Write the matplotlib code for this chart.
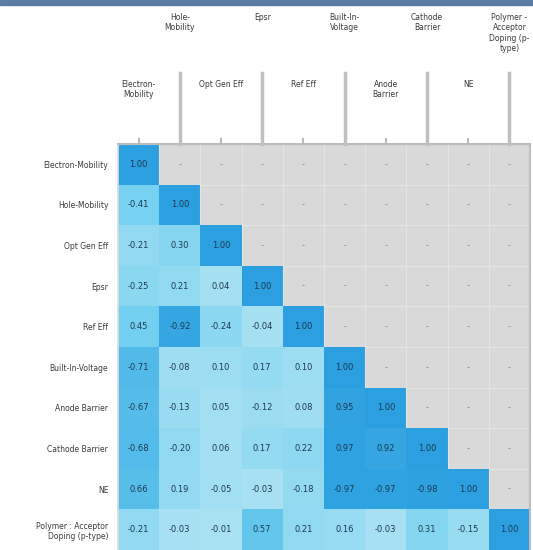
import numpy as np
import matplotlib
matplotlib.use("Agg")
import matplotlib.pyplot as plt
from matplotlib.colors import LinearSegmentedColormap

labels = ["Electron-Mobility", "Hole-Mobility", "Opt Gen Eff", "Epsr", "Ref Eff",
          "Built-In-Voltage", "Anode Barrier", "Cathode Barrier", "NE",
          "Polymer : Acceptor\nDoping (p-type)"]
col_labels = ["Electron-\nMobility", "Hole-\nMobility", "Opt Gen Eff", "Epsr", "Ref Eff",
              "Built-In-\nVoltage", "Anode\nBarrier", "Cathode\nBarrier", "NE",
              "Polymer -\nAcceptor\nDoping (p-\ntype)"]

# lower triangle of the correlation matrix, row by row
rows = [
    [1.00],
    [-0.41, 1.00],
    [-0.21, 0.30, 1.00],
    [-0.25, 0.21, 0.04, 1.00],
    [0.45, -0.92, -0.24, -0.04, 1.00],
    [-0.71, -0.08, 0.10, 0.17, 0.10, 1.00],
    [-0.67, -0.13, 0.05, -0.12, 0.08, 0.95, 1.00],
    [-0.68, -0.20, 0.06, 0.17, 0.22, 0.97, 0.92, 1.00],
    [0.66, 0.19, -0.05, -0.03, -0.18, -0.97, -0.97, -0.98, 1.00],
    [-0.21, -0.03, -0.01, 0.57, 0.21, 0.16, -0.03, 0.31, -0.15, 1.00],
]

n = len(labels)
cmap = LinearSegmentedColormap.from_list("blues", ["#a9e1f2", "#6ccdef", "#2b9fe0"])

fig = plt.figure(figsize=(5.33, 5.5), dpi=100)
fig.patches.append(plt.Rectangle((0, 1 - 5 / 550), 1, 5 / 550, transform=fig.transFigure,
                                 color="#5a7ca5", zorder=0))

ax = fig.add_axes([118 / 533, 0, 412 / 533, 406 / 550])
ax.set_xlim(0, n)
ax.set_ylim(n, 0)

for i, r in enumerate(rows):
    for j in range(n):
        if j < len(r):
            v = r[j]
            c = cmap(abs(v))
            ax.add_patch(plt.Rectangle((j, i), 1, 1, facecolor=c, edgecolor="none"))
            ax.text(j + 0.5, i + 0.5, "%.2f" % v, ha="center", va="center",
                    fontsize=6, color="#1e3850")
        else:
            ax.add_patch(plt.Rectangle((j, i), 1, 1, facecolor="#d9d9d9",
                                       edgecolor="#e4e4e4", linewidth=0.8))
            ax.text(j + 0.5, i + 0.5, "-", ha="center", va="center",
                    fontsize=6, color="#888888")

ax.set_xticks([])
ax.set_yticks(np.arange(n) + 0.5)
ax.set_yticklabels(labels, fontsize=5.5, color="#3a3a3a")
ax.tick_params(axis="y", length=0, pad=7)
ax.spines["bottom"].set_visible(False)
ax.spines["left"].set_color("#dddddd")
ax.spines["left"].set_linewidth(1.2)
for s in ["top", "right"]:
    ax.spines[s].set_color("#bdbdbd")
    ax.spines[s].set_linewidth(1.5)

# staggered column headers
for j, lab in enumerate(col_labels):
    xf = (118 + 41.2 * (j + 0.5)) / 533
    if j % 2 == 0:
        fig.text(xf, 1 - 80 / 550, lab, ha="center", va="top", fontsize=5.5, color="#3a3a3a")
        fig.add_artist(plt.Line2D([xf, xf], [1 - 139 / 550, 1 - 144 / 550],
                                  color="#bbbbbb", linewidth=1.5))
    else:
        fig.text(xf, 1 - 13 / 550, lab, ha="center", va="top", fontsize=5.5, color="#3a3a3a")
        fig.add_artist(plt.Line2D([xf, xf], [1 - 73 / 550, 1 - 144 / 550],
                                  color="#c0c0c0", linewidth=2.5))

fig.savefig("out.png", dpi=100, facecolor="white")
